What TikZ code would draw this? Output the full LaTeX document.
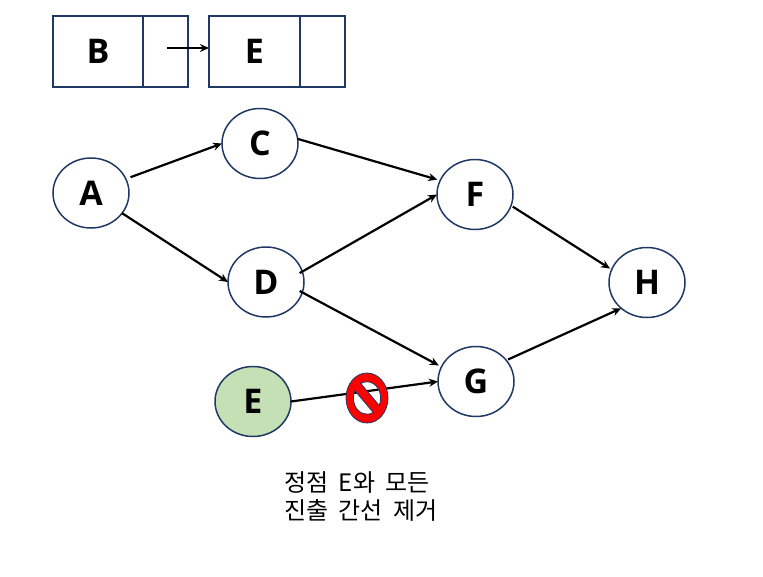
\documentclass[tikz,border=0pt]{standalone}
\usepackage{fontspec}
\setmainfont{Open Sans}
\newfontfamily\cjk[WordSpace=1.9]{Noto Sans CJK KR}
\usepackage{tikz}
\usetikzlibrary{arrows.meta,positioning,shapes.geometric}
\usepackage{xcolor}
\definecolor{cN}{RGB}{32,56,100}
\definecolor{cG}{RGB}{197,224,180}
\begin{document}
\begin{tikzpicture}[
    x=1pt,y=-1pt,
    vertex/.style={ellipse,draw=cN,line width=1.5pt,fill=white,minimum width=76pt,minimum height=70pt,inner sep=0pt,outer sep=0pt,font=\fontsize{34}{34}\selectfont\bfseries},
    cell/.style={rectangle,draw=cN,line width=1.5pt,minimum height=71pt,inner sep=0pt,outer sep=0pt,font=\fontsize{34}{34}\selectfont\bfseries},
    edge/.style={-{Stealth[length=9pt,width=8pt]},line width=2.2pt,black}
  ]
  \useasboundingbox (0,0) rectangle (763,576);
  \node[cell,minimum width=90pt] (bdata) at (98,51.5) {B};
  \node[cell,minimum width=45pt,right=0pt of bdata] (bnext) {};
  \node[cell,minimum width=91pt] (edata) at (254.5,51.5) {E};
  \node[cell,minimum width=45pt,right=0pt of edata] (enext) {};
  \coordinate (ptr) at (167,48);
  \draw[edge] (ptr) -- (edata.west |- ptr);
  \node[vertex] (A) at (91,193) {A};
  \node[vertex] (C) at (260,143.5) {C};
  \node[vertex] (D) at (266,282) {D};
  \node[vertex] (F) at (475,194.5) {F};
  \node[vertex] (G) at (476,381.5) {G};
  \node[vertex] (H) at (647,282.5) {H};
  \node[vertex,fill=cG] (E) at (253,401.5) {E};
  \draw[edge,shorten <=5pt] (A.22) -- (C.west);
  \draw[edge] (A.-33) -- (D.west);
  \draw[edge,shorten >=3pt] (C.7) -- (F.158);
  \draw[edge,shorten <=-3pt] (D.16) -- (F.west);
  \draw[edge,shorten <=-3pt,shorten >=3pt] (D.-16) -- (G.157);
  \draw[edge,shorten <=2pt,shorten >=2pt] (F.-17) -- (H.160);
  \draw[edge,shorten <=2pt] (G.35) -- (H.-135);
  \draw[edge] (E.east) -- (G.west);
  \begin{scope}[shift={(367,398)},x=1pt,y=1pt,xscale=21,yscale=25,rotate=-45]
    \draw[cN,line width=0.8pt,fill=red,even odd rule]
      (0,0) circle (1)
      (17.9:0.65) arc (17.9:162.1:0.65) -- cycle
      (-17.9:0.65) arc (-17.9:-162.1:0.65) -- cycle;
  \end{scope}
  \node[font=\cjk\fontsize{24}{28}\selectfont,align=left,inner sep=0pt] (note) at (361,497) {정점 E와 모든\\진출 간선 제거};
\end{tikzpicture}
\end{document}
